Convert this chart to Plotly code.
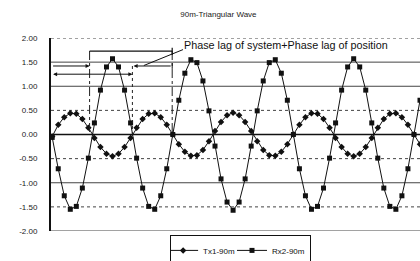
import plotly.graph_objects as go

sample = list(range(62))
tx1 = [-0.04, 0.20, 0.36, 0.44, 0.43, 0.32, 0.14, -0.07, -0.26, -0.40,
       -0.45, -0.40, -0.26, -0.07, 0.14, 0.32, 0.43, 0.44, 0.36, 0.20,
       0.00, -0.20, -0.36, -0.44, -0.43, -0.32, -0.14, 0.07, 0.26, 0.40,
       0.45, 0.40, 0.26, 0.07, -0.14, -0.32, -0.43, -0.44, -0.36, -0.20,
       0.00, 0.20, 0.36, 0.44, 0.43, 0.32, 0.14, -0.07, -0.26, -0.40,
       -0.45, -0.40, -0.26, -0.07, 0.14, 0.32, 0.43, 0.44, 0.36, 0.20,
       0.00, -0.20]
rx2 = [-0.06, -0.71, -1.27, -1.55, -1.49, -1.11, -0.49, 0.24, 0.92, 1.40,
       1.57, 1.40, 0.92, 0.24, -0.49, -1.11, -1.49, -1.55, -1.27, -0.71,
       0.00, 0.71, 1.27, 1.55, 1.49, 1.11, 0.49, -0.24, -0.92, -1.40,
       -1.57, -1.40, -0.92, -0.24, 0.49, 1.11, 1.49, 1.55, 1.27, 0.71,
       0.00, -0.71, -1.27, -1.55, -1.49, -1.11, -0.49, 0.24, 0.92, 1.40,
       1.57, 1.40, 0.92, 0.24, -0.49, -1.11, -1.49, -1.55, -1.27, -0.71,
       0.00, 0.71]
y_ticks = [2.0, 1.5, 1.0, 0.5, 0.0, -0.5, -1.0, -1.5, -2.0]
y_labels = ["2.00", "1.50", "1.00", "0.50", "0.00", "-0.50", "-1.00", "-1.50", "-2.00"]

fig = go.Figure()
fig.add_trace(go.Scatter(x=sample, y=tx1, name="Tx1-90m", mode="lines+markers",
                         line=dict(color="#111", width=1),
                         marker=dict(symbol="diamond", size=5, color="#111")))
fig.add_trace(go.Scatter(x=sample, y=rx2, name="Rx2-90m", mode="lines+markers",
                         line=dict(color="#111", width=1),
                         marker=dict(symbol="square", size=5, color="#111")))

shapes = []
for v in y_ticks:
    solid = v in (1.5, 1.0, 0.0, -1.0, -2.0)
    shapes.append(dict(type="line", xref="paper", yref="y", x0=0, x1=1, y0=v, y1=v,
                       line=dict(color="#111" if v == 0 else "#444",
                                 width=1.6 if v == 0 else 1,
                                 dash="solid" if solid else "dot"), layer="below"))
for xv, ytop, d in [(6.2, 1.73, "dashdot"), (13.3, 1.42, "dot"), (19.9, 1.73, "dashdot")]:
    shapes.append(dict(type="line", xref="x", yref="y", x0=xv, x1=xv, y0=ytop, y1=0.0,
                       line=dict(color="#222", width=1, dash=d)))
shapes.append(dict(type="line", xref="x", yref="y", x0=6.2, x1=19.9, y0=1.73, y1=1.73,
                   line=dict(color="#111", width=1.2)))
shapes.append(dict(type="line", xref="x", yref="y", x0=19.9, x1=19.9, y0=1.65, y1=1.80,
                   line=dict(color="#111", width=1.2)))
shapes.append(dict(type="line", xref="x", yref="y", x0=21.7, x1=15.2, y0=1.76, y1=1.43,
                   line=dict(color="#111", width=1)))
shapes.append(dict(type="line", xref="x", yref="y", x0=19.9, x1=19.9, y0=1.36, y1=1.48,
                   line=dict(color="#111", width=1)))

annotations = [
    dict(x=21.5, y=1.86, xref="x", yref="y", text="Phase lag of system+Phase lag of position",
         showarrow=False, xanchor="left", yanchor="middle",
         font=dict(family="Liberation Sans, Arial", size=10.8, color="#111")),
    dict(x=6.2, y=1.42, ax=-0.1, ay=1.42, xref="x", yref="y", axref="x", ayref="y",
         text="", showarrow=True, arrowhead=2, arrowsize=0.8, arrowwidth=1, arrowcolor="#111"),
    dict(x=13.5, y=1.42, ax=19.9, ay=1.42, xref="x", yref="y", axref="x", ayref="y",
         text="", showarrow=True, arrowhead=2, arrowsize=0.8, arrowwidth=1, arrowcolor="#111"),
    dict(x=13.3, y=1.25, ax=-0.1, ay=1.25, xref="x", yref="y", axref="x", ayref="y",
         text="", showarrow=True, arrowhead=2, arrowside="end+start", arrowsize=0.8,
         arrowwidth=1, arrowcolor="#111"),
]

fig.update_layout(
    width=420, height=261,
    margin=dict(l=51, r=0, t=38, b=30, autoexpand=False),
    paper_bgcolor="white", plot_bgcolor="white",
    title=dict(text="90m-Triangular Wave", x=0.52, xanchor="center", y=0.945, yanchor="middle",
               font=dict(family="Liberation Sans, Arial", size=8, color="#222")),
    font=dict(family="Liberation Sans, Arial", size=8, color="#222"),
    xaxis=dict(range=[-0.2, 61.0], showticklabels=False, showgrid=False, zeroline=False,
               showline=False, ticks="", automargin=False),
    yaxis=dict(range=[-2.0, 2.0], tickvals=y_ticks, ticktext=y_labels, showgrid=False,
               zeroline=False, showline=True, linecolor="#111", linewidth=2, ticks="",
               ticklabelstandoff=10, tickfont=dict(size=8, color="#222"), automargin=False),
    showlegend=True,
    legend=dict(orientation="h", xref="container", x=0.405, xanchor="left",
                yref="container", y=0.1, yanchor="top",
                bordercolor="#111", borderwidth=1, indentation=-8,
                font=dict(size=8, color="#111"), itemwidth=30),
    shapes=shapes, annotations=annotations,
)

fig.write_html("out.html", config={"displayModeBar": False},
               post_script="document.body.style.margin='0';document.body.style.overflow='hidden';")
